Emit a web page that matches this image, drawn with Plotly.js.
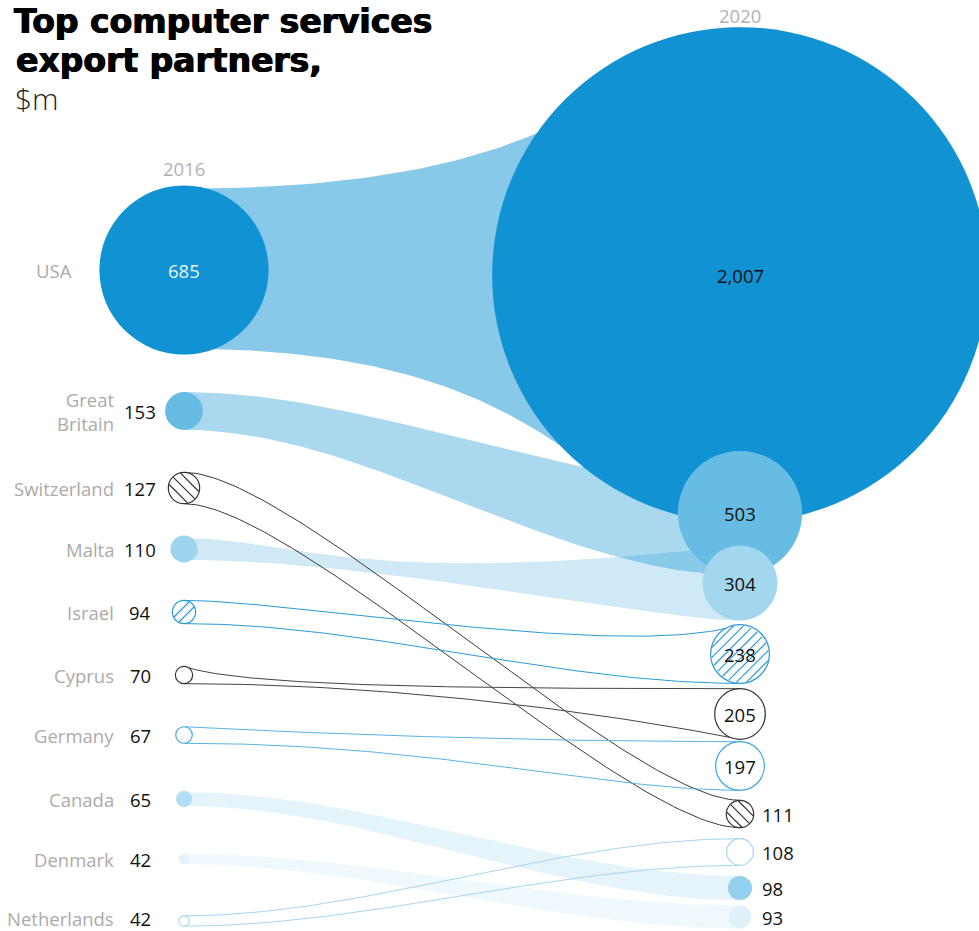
<!DOCTYPE html>
<html><head><meta charset="utf-8">
<script src="https://cdn.plot.ly/plotly-3.0.1.min.js"></script>
<style>html,body{margin:0;padding:0;background:#fff}#chart{width:979px;height:931px}</style>
</head><body><div id="chart"></div>
<script>
// ---------------- data ----------------
const countries = ['USA','Great Britain','Switzerland','Malta','Israel','Cyprus','Germany','Canada','Denmark','Netherlands'];
const value2016 = [685,153,127,110,94,70,67,65,42,42];
const value2020 = [2007,503,111,304,238,205,197,98,93,108];
const yearLabels = ['2016','2020'];
const titleLines = ['Top computer services','export partners,','$m'];

// ---------------- layout (slots by rank, pixel space) ----------------
const W = 979, H = 931;
const colX = [184, 740];
const slots2016 = [270,411,488,549,612,675,735,799,859,921];
const slots2020 = [275,513,583,654,714,766,814,852,888,917];
const radiusPerUnit = 0.1235;

// ---------------- styles ----------------
const B = a => 'rgba(17,146,210,' + a + ')';
const SS = [.33,0,.67,1];
const style = {
 'USA':          {fill:['#1192d2','#1192d2'], band:{fill:B(0.5)},  txt:'#e8f4fb',
                  geom:{tl:-.96,tr:-1,bl:.93,br:1,top:[.8,0,.8,1],bot:[.7,0,.7,1]}},
 'Great Britain':{fill:['#67bce4','#67bce4'], band:{fill:B(0.36)}, name:'Great<br>Britain',
                  geom:{tl:-1,tr:-.45,bl:1,br:1,top:SS,bot:SS}},
 'Switzerland':  {fill:['#fff','#fff'], outline:'#333', band:{line:'#3a3a3a'}, hatch:{dir:'\\',sp:8,off:0,color:'#333'},
                  geom:{tl:-1,tr:-1,bl:1,br:1,top:[.2,0,.8,1],bot:[.2,0,.8,1]}},
 'Malta':        {fill:['#9fd4ef','#a3d6ef'], band:{fill:B(0.2)},
                  geom:{tl:-.8,tr:-1,bl:.8,br:1,top:[.2,0,.3,7],bot:[.35,0,.85,1]}},
 'Israel':       {fill:['#fff','#fff'], outline:'#2a9ad6', band:{line:'#2a9ad6'}, hatch:{dir:'/',sp:7,off:3.5,color:'#2a9ad6'},
                  geom:{tl:-1,tr:-1,bl:1,br:1,top:[.2,0,.8,2.5],bot:SS}},
 'Cyprus':       {fill:['#fff','#fff'], outline:'#333', band:{line:'#444'},
                  geom:{tl:-1,tr:-1,bl:1,br:1,top:[.1,.9,.5,1],bot:[.4,0,.8,.6]}},
 'Germany':      {fill:['#fff','#fff'], outline:'#3ea6df', band:{line:'#5ab3e3'},
                  geom:{tl:-1,tr:-1,bl:1,br:1,top:[.2,.4,.6,1],bot:[.45,0,.75,1]}},
 'Canada':       {fill:['#b3ddf2','#94cfed'], band:{fill:B(0.11)},
                  geom:{tl:-.85,tr:-1,bl:.85,br:1,top:SS,bot:SS}},
 'Denmark':      {fill:['#e3f2fa','#e1f1fa'], band:{fill:B(0.065)},
                  geom:{tl:-1,tr:-1,bl:1,br:1,top:SS,bot:SS}},
 'Netherlands':  {fill:['#fff','#fff'], outline:'#a6d6f0', band:{line:'#a6d6f0'},
                  geom:{tl:-1,tr:-1,bl:1,br:1,top:SS,bot:SS}}
};

// ---------------- positions from ranks ----------------
function rankOf(vals){
  const idx = vals.map((v,i)=>i).sort((a,b)=>vals[b]-vals[a]);
  const r = new Array(vals.length); idx.forEach((k,pos)=>r[k]=pos); return {r, idx};
}
const R16 = rankOf(value2016), R20 = rankOf(value2020);
const cy16 = countries.map((c,i)=>slots2016[R16.r[i]]);
const cy20 = countries.map((c,i)=>slots2020[R20.r[i]]);
const r16 = value2016.map(v=>v*radiusPerUnit);
const r20 = value2020.map(v=>v*radiusPerUnit);

function edge(x0,y0,x1,y1,p,n){
  const [a1,v1,a2,v2]=p, xs=[], ys=[];
  for(let i=0;i<=n;i++){
    const t=i/n, m=1-t;
    const bx=3*m*m*t*a1+3*m*t*t*a2+t*t*t;
    const by=3*m*m*t*v1+3*m*t*t*v2+t*t*t;
    xs.push(x0+bx*(x1-x0)); ys.push(y0+by*(y1-y0));
  }
  return {xs,ys};
}

const traces = [];
const fillOrder = ['USA','Malta','Great Britain','Canada','Denmark'];
function bandEdges(i){
  const g = style[countries[i]].geom;
  const top = edge(colX[0], cy16[i]+g.tl*r16[i], colX[1], cy20[i]+g.tr*r20[i], g.top, 90);
  const bot = edge(colX[0], cy16[i]+g.bl*r16[i], colX[1], cy20[i]+g.br*r20[i], g.bot, 90);
  return {top,bot};
}
fillOrder.forEach(name=>{
  const i = countries.indexOf(name);
  const {top,bot} = bandEdges(i);
  traces.push({type:'scatter',mode:'lines',x:top.xs.concat(bot.xs.slice().reverse()),
    y:top.ys.concat(bot.ys.slice().reverse()),fill:'toself',fillcolor:style[name].band.fill,
    line:{width:0},hoverinfo:'skip'});
});
countries.forEach((name,i)=>{
  const s = style[name]; if(!s.band.line) return;
  const {top,bot} = bandEdges(i);
  traces.push({type:'scatter',mode:'lines',x:top.xs.concat([null],bot.xs),y:top.ys.concat([null],bot.ys),
    line:{color:s.band.line,width:1},hoverinfo:'skip'});
});

// circles 2016
traces.push({type:'scatter',mode:'markers',x:countries.map(()=>colX[0]),y:cy16,
  marker:{size:r16.map(r=>2*r),color:countries.map(c=>style[c].fill[0]),opacity:1,
    line:{color:countries.map(c=>style[c].outline||'rgba(0,0,0,0)'),width:countries.map(c=>style[c].outline?1.2:0)}},
  hoverinfo:'skip'});
// circles 2020, biggest first
const ord20 = R20.idx;
traces.push({type:'scatter',mode:'markers',x:ord20.map(()=>colX[1]),y:ord20.map(i=>cy20[i]),
  marker:{size:ord20.map(i=>2*r20[i]),color:ord20.map(i=>style[countries[i]].fill[1]),opacity:1,
    line:{color:ord20.map(i=>style[countries[i]].outline||'rgba(0,0,0,0)'),width:ord20.map(i=>style[countries[i]].outline?1.2:0)}},
  hoverinfo:'skip'});

// hatching
function hatch(cx,cy,r,h){
  const s=Math.SQRT1_2, dv = h.dir==='/'?[s,-s]:[s,s], nv = h.dir==='/'?[s,s]:[s,-s];
  const xs=[],ys=[];
  const kmax=Math.ceil(r/h.sp)+1;
  for(let k=-kmax;k<=kmax;k++){
    const d=h.off+k*h.sp; if(Math.abs(d)>0.9*r) continue;
    const L=Math.sqrt(r*r-d*d)*0.96, px=cx+d*nv[0], py=cy+d*nv[1];
    xs.push(px-L*dv[0],px+L*dv[0],null); ys.push(py-L*dv[1],py+L*dv[1],null);
  }
  return {xs,ys};
}
countries.forEach((name,i)=>{
  const h=style[name].hatch; if(!h) return;
  [[colX[0],cy16[i],r16[i]],[colX[1],cy20[i],r20[i]]].forEach(([x,y,r])=>{
    const hs=hatch(x,y,r,h);
    traces.push({type:'scatter',mode:'lines',x:hs.xs,y:hs.ys,line:{color:h.color,width:1.2},hoverinfo:'skip'});
  });
});

// ---------------- text ----------------
const FONT='"Open Sans", "Noto Sans", sans-serif';
const ann=[];
const fmt = v => v.toLocaleString('en-US');
const yText = y => Math.min(y, H-13);
countries.forEach((name,i)=>{
  const s=style[name], r=r16[i], y=yText(cy16[i]);
  const inside = r>20;
  const nameRight = Math.min(116, colX[0]-r-25);
  ann.push({x:nameRight,y:y,text:s.name||name,xanchor:'right',yanchor:'middle',align:'right',showarrow:false,
    font:{family:FONT,size:18.5,color:'#adaaaa'}});
  ann.push({x:inside?colX[0]:140,y:y,text:fmt(value2016[i]),xanchor:'center',yanchor:'middle',showarrow:false,
    font:{family:FONT,size:18.5,color:inside?(s.txt||'#111'):'#111',weight:500}});
  const r2=r20[i], in2=r2>20;
  ann.push({x:in2?colX[1]:colX[1]+20,y:yText(cy20[i]),text:fmt(value2020[i]),xanchor:in2?'center':'left',yanchor:'middle',showarrow:false,
    font:{family:FONT,size:18.5,color:'#111',weight:500}});
});
const top16 = R16.idx[0], top20 = R20.idx[0];
ann.push({x:colX[0],y:cy16[top16]-r16[top16]-17,text:yearLabels[0],showarrow:false,xanchor:'center',yanchor:'middle',
  font:{family:FONT,size:18.5,color:'#b3b0b0'}});
ann.push({x:colX[1],y:cy20[top20]-r20[top20]-12,text:yearLabels[1],showarrow:false,xanchor:'center',yanchor:'middle',
  font:{family:FONT,size:18.5,color:'#b3b0b0'}});
const TFONT={family:'"DejaVu Sans", sans-serif',size:33,color:'#000',shadow:'0.7px 0 0 #000, -0.5px 0 0 #000'};
ann.push({xref:'paper',yref:'paper',x:14/W,y:1-60/H,text:'<b>'+titleLines[1]+'</b>',showarrow:false,xanchor:'left',yanchor:'middle',
  font:TFONT});
ann.push({xref:'paper',yref:'paper',x:13/W,y:1-98/H,text:titleLines[2],showarrow:false,xanchor:'left',yanchor:'middle',
  font:{family:'"Open Sans", sans-serif',size:30,color:'#222',weight:300}});

const layout = {
  width:W,height:H,margin:{l:0,r:0,t:0,b:0,pad:0},paper_bgcolor:'#fff',plot_bgcolor:'#fff',showlegend:false,
  title:{text:'<b>'+titleLines[0]+'</b>',x:14/W,xanchor:'left',xref:'paper',y:1-21/H,yref:'container',yanchor:'middle',
    font:TFONT},
  xaxis:{range:[0,W],visible:false,fixedrange:true},
  yaxis:{range:[H,0],visible:false,fixedrange:true},
  annotations:ann
};
Plotly.newPlot('chart',traces,layout,{staticPlot:true,displayModeBar:false});
</script></body></html>
